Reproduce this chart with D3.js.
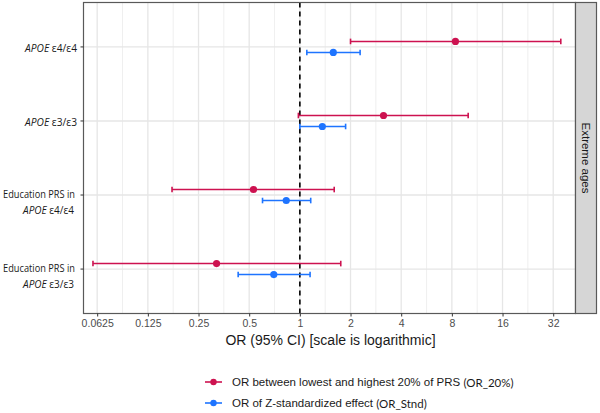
<!DOCTYPE html>
<html>
<head>
<meta charset="utf-8">
<script src="https://cdn.jsdelivr.net/npm/d3@7"></script>
<style>
  body { margin: 0; background: #fff; }
  svg { display: block; }
</style>
</head>
<body>
<svg id="chart" width="600" height="413"></svg>
<script>
// ---- data ----
const categories = [
  {line1: null, gene: "APOE", geno: " ε4/ε4"},
  {line1: null, gene: "APOE", geno: " ε3/ε3"},
  {line1: "Education PRS in", gene: "APOE", geno: " ε4/ε4"},
  {line1: "Education PRS in", gene: "APOE", geno: " ε3/ε3"}
];
const catKeys = ["e44", "e33", "edu44", "edu33"];
const seriesNames = ["OR_20", "OR_Stnd"];
// OR between lowest and highest 20% of PRS
const or20Est   = [8.4, 3.14, 0.53, 0.32];
const or20Low   = [2.0, 0.98, 0.174, 0.059];
const or20High  = [35.5, 10.0, 1.6, 1.75];
// OR of Z-standardized effect
const stndEst   = [1.58, 1.36, 0.83, 0.70];
const stndLow   = [1.10, 1.00, 0.60, 0.43];
const stndHigh  = [2.28, 1.87, 1.16, 1.15];
const xTicks = [0.0625, 0.125, 0.25, 0.5, 1, 2, 4, 8, 16, 32];
const xTickLabels = ["0.0625", "0.125", "0.25", "0.5", "1", "2", "4", "8", "16", "32"];
const legendLabels = ["OR between lowest and highest 20% of PRS ", "OR of Z-standardized effect "];
const legendCodes = ["(OR_20%)", "(OR_Stnd)"];
const colors = ["#CD1250", "#1E74FF"];

// ---- layout ----
const svg = d3.select("#chart");
const P = {left: 83.5, right: 575.5, top: 2.5, bottom: 313.5};
const x = d3.scaleLog().base(2)
  .domain([Math.pow(2, -4.27), Math.pow(2, 5.44)])
  .range([P.left, P.right]);
const y = d3.scalePoint().domain(catKeys).range([P.top, P.bottom]).padding(0.6);
const dodge = [-5.5, 5.5];

// gridlines
const g = svg.append("g");
const lx = Math.log2(x.domain()[0]), hx = Math.log2(x.domain()[1]);
const minor = [];
for (let k = Math.ceil(lx - 0.5); k <= hx; k++) {
  const v = Math.pow(2, k + 0.5);
  if (v > x.domain()[0] && v < x.domain()[1]) minor.push(v);
}
g.selectAll(".minor").data(minor).join("line")
  .attr("x1", d => x(d)).attr("x2", d => x(d))
  .attr("y1", P.top).attr("y2", P.bottom)
  .attr("stroke", "#ebebeb").attr("stroke-width", 0.8);
g.selectAll(".major").data(xTicks).join("line")
  .attr("x1", d => x(d)).attr("x2", d => x(d))
  .attr("y1", P.top).attr("y2", P.bottom)
  .attr("stroke", "#e6e6e6").attr("stroke-width", 1.3);
g.selectAll(".hgrid").data(catKeys).join("line")
  .attr("x1", P.left).attr("x2", P.right)
  .attr("y1", d => y(d)).attr("y2", d => y(d))
  .attr("stroke", "#e6e6e6").attr("stroke-width", 1.3);

// reference line at OR = 1
svg.append("line")
  .attr("x1", x(1)).attr("x2", x(1))
  .attr("y1", P.top).attr("y2", P.bottom)
  .attr("stroke", "#000").attr("stroke-width", 1.6)
  .attr("stroke-dasharray", "5,4");

// series
const series = [
  {est: or20Est, low: or20Low, high: or20High},
  {est: stndEst, low: stndLow, high: stndHigh}
];
series.forEach((s, si) => {
  const sg = svg.append("g");
  const rows = catKeys.map((k, i) => ({k, est: s.est[i], low: s.low[i], high: s.high[i]}));
  const yy = d => y(d.k) + dodge[si];
  sg.selectAll(".bar").data(rows).join("line")
    .attr("x1", d => x(d.low)).attr("x2", d => x(d.high))
    .attr("y1", yy).attr("y2", yy)
    .attr("stroke", colors[si]).attr("stroke-width", 1.6);
  sg.selectAll(".capL").data(rows).join("line")
    .attr("x1", d => x(d.low)).attr("x2", d => x(d.low))
    .attr("y1", d => yy(d) - 2.8).attr("y2", d => yy(d) + 2.8)
    .attr("stroke", colors[si]).attr("stroke-width", 1.6);
  sg.selectAll(".capH").data(rows).join("line")
    .attr("x1", d => x(d.high)).attr("x2", d => x(d.high))
    .attr("y1", d => yy(d) - 2.8).attr("y2", d => yy(d) + 2.8)
    .attr("stroke", colors[si]).attr("stroke-width", 1.6);
  sg.selectAll("circle").data(rows).join("circle")
    .attr("cx", d => x(d.est)).attr("cy", yy)
    .attr("r", 3.6).attr("fill", colors[si]);
});

// panel border
svg.append("rect")
  .attr("x", P.left).attr("y", P.top)
  .attr("width", P.right - P.left).attr("height", P.bottom - P.top)
  .attr("fill", "none").attr("stroke", "#595959").attr("stroke-width", 1.2);

// strip
svg.append("rect")
  .attr("x", P.right).attr("y", P.top)
  .attr("width", 21).attr("height", P.bottom - P.top)
  .attr("fill", "#d6d6d6").attr("stroke", "#595959").attr("stroke-width", 1.2);
svg.append("text")
  .attr("transform", `translate(${P.right + 10.5},${(P.top + P.bottom) / 2}) rotate(90)`)
  .attr("text-anchor", "middle").attr("dominant-baseline", "central")
  .attr("font-family", "Liberation Sans, Arial, sans-serif")
  .attr("font-size", 11.5).attr("fill", "#1a1a1a")
  .text("Extreme ages");

// x axis
const xAxis = d3.axisBottom(x).tickValues(xTicks)
  .tickFormat((d, i) => xTickLabels[i]).tickSize(3).tickPadding(3);
const xa = svg.append("g").attr("transform", `translate(0,${P.bottom})`).call(xAxis);
xa.select(".domain").remove();
xa.selectAll(".tick line").attr("stroke", "#333").attr("stroke-width", 1);
xa.selectAll(".tick text").attr("font-family", "Liberation Sans, Arial, sans-serif")
  .attr("font-size", 10.5).attr("fill", "#4d4d4d");

svg.append("text")
  .attr("x", (P.left + P.right) / 2 + 1).attr("y", 345)
  .attr("text-anchor", "middle")
  .attr("font-family", "Liberation Sans, Arial, sans-serif")
  .attr("font-size", 14).attr("fill", "#1a1a1a")
  .text("OR (95% CI) [scale is logarithmic]");

// y axis ticks and labels
const ya = svg.append("g");
ya.selectAll(".yt").data(catKeys).join("line")
  .attr("x1", P.left - 3).attr("x2", P.left)
  .attr("y1", d => y(d)).attr("y2", d => y(d))
  .attr("stroke", "#333").attr("stroke-width", 1);
const labelFont = "'Open Sans', 'Noto Sans', sans-serif";
// narrow label text (reference uses a condensed face) by horizontal scaling to target width
function label(xr, yc, w, build) {
  const gg = ya.append("g");
  const t = gg.append("text").attr("x", 0).attr("y", 0).attr("text-anchor", "end")
    .attr("dominant-baseline", "central")
    .attr("font-family", labelFont).attr("font-size", 11.5).attr("fill", "#1a1a1a");
  build(t);
  const len = t.node().getComputedTextLength();
  const sx = len > 0 ? Math.min(1, w / len) : 1;
  gg.attr("transform", `translate(${xr},${yc}) scale(${sx},1)`);
}
function gene(t, c) {
  t.append("tspan").attr("font-style", "italic").text(c.gene);
  t.append("tspan").attr("font-style", "normal").text(c.geno);
}
categories.forEach((c, i) => {
  const yc = y(catKeys[i]);
  if (c.line1) {
    label(75, yc - 1, 72, t => t.text(c.line1));
    label(74, yc + 13.5, 51, t => gene(t, c));
  } else {
    label(77, yc, 52, t => gene(t, c));
  }
});

// legend
const legY = [382, 403];
seriesNames.forEach((s, i) => {
  const lg = svg.append("g");
  lg.append("line").attr("x1", 205).attr("x2", 222)
    .attr("y1", legY[i]).attr("y2", legY[i])
    .attr("stroke", colors[i]).attr("stroke-width", 1.6);
  lg.append("circle").attr("cx", 213.5).attr("cy", legY[i]).attr("r", 3.2).attr("fill", colors[i]);
  const t = lg.append("text").attr("x", 232).attr("y", legY[i])
    .attr("dominant-baseline", "central").attr("fill", "#1a1a1a");
  t.append("tspan").attr("font-family", "Liberation Sans, Arial, sans-serif")
    .attr("font-size", 11.5).text(legendLabels[i]);
  t.append("tspan").attr("font-family", "Lato, sans-serif")
    .attr("font-size", 11.5).text(legendCodes[i]);
});
</script>
</body>
</html>
